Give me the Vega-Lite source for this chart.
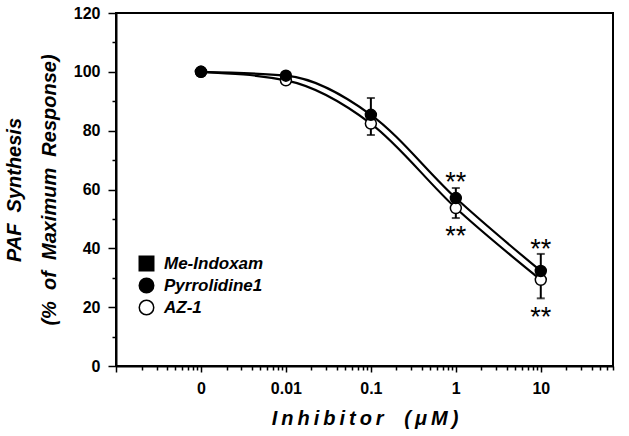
{
  "$schema": "https://vega.github.io/schema/vega-lite/v6.json",
  "width": 497,
  "height": 353,
  "autosize": {"type": "none"},
  "padding": {"left": 116, "top": 13, "right": 16, "bottom": 70},
  "background": "white",
  "config": {
    "view": {"stroke": "black", "strokeWidth": 2},
    "font": "Liberation Sans"
  },
  "datasets": {
    "points": [
      {"series": "AZ-1", "conc": 0.001, "pct": 100},
      {"series": "AZ-1", "conc": 0.01, "pct": 97.1},
      {"series": "AZ-1", "conc": 0.1, "pct": 82.4},
      {"series": "AZ-1", "conc": 1, "pct": 53.7},
      {"series": "AZ-1", "conc": 10, "pct": 29.3},
      {"series": "Pyrrolidine1", "conc": 0.001, "pct": 100},
      {"series": "Pyrrolidine1", "conc": 0.01, "pct": 98.7},
      {"series": "Pyrrolidine1", "conc": 0.1, "pct": 85.4},
      {"series": "Pyrrolidine1", "conc": 1, "pct": 57.1},
      {"series": "Pyrrolidine1", "conc": 10, "pct": 32.3}
    ],
    "errors": [
      {"conc": 0.1, "pct": 78.5, "hi": 91.1},
      {"conc": 1, "pct": 50.3, "hi": 60.5},
      {"conc": 10, "pct": 23.0, "hi": 38.1}
    ],
    "stars": [
      {"conc": 1, "pct": 64.0, "label": "**"},
      {"conc": 1, "pct": 45.4, "label": "**"},
      {"conc": 10, "pct": 41.2, "label": "**"},
      {"conc": 10, "pct": 18.0, "label": "**"}
    ]
  },
  "encoding": {
    "x": {
      "field": "conc",
      "type": "quantitative",
      "scale": {"type": "log", "domain": [0.0001, 70.8], "nice": false, "zero": false},
      "axis": {
        "title": "I\u2009n\u2009h\u2009i\u2009b\u2009i\u2009t\u2009o\u2009r\u00a0\u00a0\u00a0\u2009(\u2009μ\u2009M\u2009)",
        "values": [0.0001,0.0002,0.0003,0.0004,0.0005,0.0006,0.0007,0.0008,0.0009,
                   0.001,0.002,0.003,0.004,0.005,0.006,0.007,0.008,0.009,
                   0.01,0.02,0.03,0.04,0.05,0.06,0.07,0.08,0.09,
                   0.1,0.2,0.3,0.4,0.5,0.6,0.7,0.8,0.9,
                   1,2,3,4,5,6,7,8,9,
                   10,20,30,40,50,60,70],
        "labelExpr": "datum.value == 0.001 ? '0' : datum.value == 0.01 ? '0.01' : datum.value == 0.1 ? '0.1' : datum.value == 1 ? '1' : datum.value == 10 ? '10' : ''",
        "grid": false,
        "domainColor": "black",
        "domainWidth": 2,
        "tickColor": "black",
        "tickWidth": 1.5,
        "tickSize": {"condition": {"test": "indexof([0.0001,0.001,0.01,0.1,1,10], datum.value) >= 0", "value": 6}, "value": 4},
        "labelFont": "Liberation Sans",
        "labelFontWeight": "bold",
        "labelFontSize": 16,
        "labelColor": "black",
        "labelPadding": 8,
        "labelFlush": false,
        "labelOverlap": false,
        "titleFont": "Liberation Sans",
        "titleFontSize": 20,
        "titleFontWeight": "bold",
        "titleFontStyle": "italic",
        "titleColor": "black",
        "titlePadding": 12
      }
    },
    "y": {
      "field": "pct",
      "type": "quantitative",
      "scale": {"domain": [0, 120], "nice": false},
      "axis": {
        "title": ["PAF\u00a0\u00a0Synthesis", "(%\u00a0\u00a0of\u00a0\u00a0Maximum\u00a0\u00a0Response)"],
        "values": [0,10,20,30,40,50,60,70,80,90,100,110,120],
        "labelExpr": "datum.value % 20 == 0 ? datum.label : ''",
        "grid": false,
        "domainColor": "black",
        "domainWidth": 2,
        "tickColor": "black",
        "tickWidth": 1.5,
        "tickSize": {"condition": {"test": "datum.value % 20 == 0", "value": 8}, "value": 4},
        "labelFont": "Liberation Sans",
        "labelFontWeight": "bold",
        "labelFontSize": 16,
        "labelColor": "black",
        "labelPadding": 8,
        "labelOverlap": false,
        "titleFont": "Liberation Sans",
        "titleFontSize": 20,
        "titleFontWeight": "bold",
        "titleFontStyle": "italic",
        "titleColor": "black",
        "titleLineHeight": 35,
        "titlePadding": 14
      }
    }
  },
  "layer": [
    {
      "data": {"name": "points"},
      "mark": {"type": "line", "interpolate": "monotone", "color": "black", "strokeWidth": 2.2},
      "encoding": {"detail": {"field": "series", "type": "nominal"}}
    },
    {
      "data": {"name": "errors"},
      "mark": {"type": "errorbar", "ticks": {"size": 8, "thickness": 2, "color": "black"}, "rule": {"strokeWidth": 2, "color": "black"}},
      "encoding": {"y2": {"field": "hi"}}
    },
    {
      "data": {"name": "points"},
      "mark": {"type": "point", "stroke": "black", "strokeWidth": 1.5, "size": 120, "opacity": 1},
      "encoding": {
        "shape": {
          "field": "series",
          "type": "nominal",
          "scale": {"domain": ["Me-Indoxam", "Pyrrolidine1", "AZ-1"], "range": ["square", "circle", "circle"]},
          "legend": {
            "orient": "none", "legendX": 22, "legendY": 242, "title": null,
            "labelFont": "Liberation Sans", "labelFontSize": 17, "labelFontWeight": "bold", "labelFontStyle": "italic", "labelColor": "black",
            "symbolSize": 210, "symbolStrokeColor": "black", "symbolStrokeWidth": 1.5, "symbolOpacity": 1,
            "rowPadding": 1, "labelOffset": 9,
            "encode": {"symbols": {"update": {"stroke": {"value": "black"}, "strokeWidth": {"value": 1.5}}}}
          }
        },
        "fill": {
          "field": "series",
          "type": "nominal",
          "scale": {"domain": ["Me-Indoxam", "Pyrrolidine1", "AZ-1"], "range": ["black", "black", "white"]},
          "legend": {
            "orient": "none", "legendX": 22, "legendY": 242, "title": null,
            "labelFont": "Liberation Sans", "labelFontSize": 17, "labelFontWeight": "bold", "labelFontStyle": "italic", "labelColor": "black",
            "symbolSize": 210, "symbolStrokeColor": "black", "symbolStrokeWidth": 1.5, "symbolOpacity": 1,
            "rowPadding": 1, "labelOffset": 9,
            "encode": {"symbols": {"update": {"stroke": {"value": "black"}, "strokeWidth": {"value": 1.5}}}}
          }
        }
      }
    },
    {
      "data": {"name": "stars"},
      "mark": {"type": "text", "font": "Liberation Sans", "fontSize": 27, "baseline": "alphabetic", "dy": 13, "color": "black"},
      "encoding": {"text": {"field": "label", "type": "nominal"}}
    }
  ]
}
